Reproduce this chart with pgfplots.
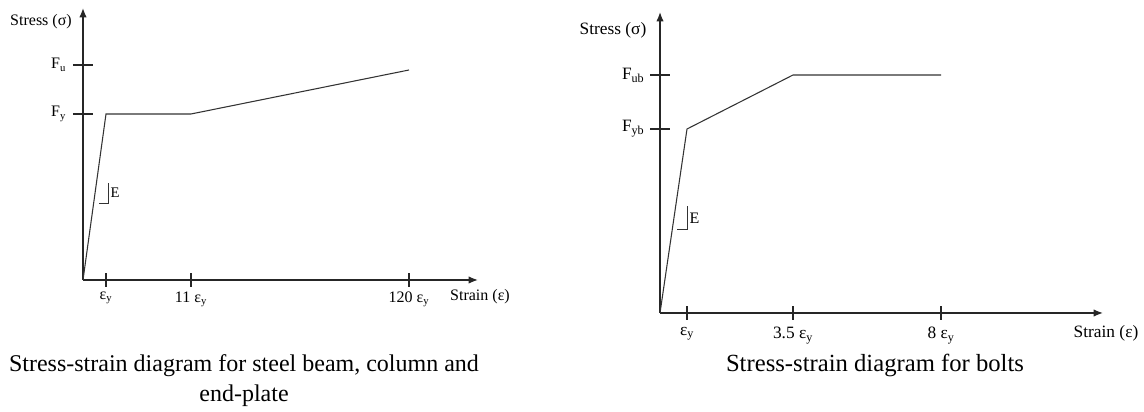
\documentclass[border=0pt]{standalone}
\usepackage{fontspec}
\setmainfont{Liberation Serif}
\usepackage{pgfplots}
\pgfplotsset{compat=1.18}
\usetikzlibrary{arrows.meta}

\pgfplotsset{
  ssdiag/.style={
    scale only axis,
    axis lines=left,
    axis line style={line width=1pt, draw=black!85, -{Latex[length=7pt,width=5.5pt]}},
    xmin=0, ymin=0,
    clip=false,
    xtick align=center, ytick align=center,
    xtick style={line width=0.9pt, black!85, /pgfplots/major tick length=10.5pt},
    ytick style={line width=0.9pt, black!85, /pgfplots/major tick length=15pt},
    /pgf/number format/assume math mode=true,
  },
  curve/.style={line width=0.8pt, black!80, no markers},
}

\begin{document}
\begin{tikzpicture}
\path (0,0) rectangle (858pt,305.25pt);

% steel beam, column and end-plate
\begin{axis}[ssdiag,
  at={(62.25pt,95.25pt)}, anchor=south west,
  width=296.25pt, height=204pt,
  xmax=395, ymax=272,
  xtick={23,108,326},
  xticklabels={ε\textsubscript{y}, 11 ε\textsubscript{y}, 120 ε\textsubscript{y}},
  ytick={166,215},
  yticklabels={F\textsubscript{y}, F\textsubscript{u}},
  tick label style={font=\fontsize{12}{14}\selectfont},
  xticklabel style={yshift=-3pt},
  yticklabel style={xshift=-7pt},
]
\addplot[curve] coordinates {(0,0) (23,166) (108,166) (326,210)};
\draw[line width=0.7pt, black!80] (axis cs:16,77) -- (axis cs:25,77) -- (axis cs:25,97);
\node[font=\fontsize{11}{13}\selectfont, anchor=west, inner sep=1pt] at (axis cs:26,87) {E};
\node[font=\fontsize{12}{14}\selectfont] at (axis cs:-42,258) {Stress (σ)};
\node[font=\fontsize{12}{14}\selectfont] at (axis cs:397,-17) {Strain (ε)};
\end{axis}

% bolts
\begin{axis}[ssdiag,
  at={(495pt,70.5pt)}, anchor=south west,
  width=332.25pt, height=225.75pt,
  xmax=443, ymax=301,
  xtick={27,133,281},
  xticklabels={ε\textsubscript{y}, 3.5 ε\textsubscript{y}, 8 ε\textsubscript{y}},
  ytick={184,238},
  yticklabels={F\textsubscript{yb}, F\textsubscript{ub}},
  tick label style={font=\fontsize{13}{15}\selectfont},
  xticklabel style={yshift=-5pt},
  yticklabel style={xshift=-6pt},
]
\addplot[curve] coordinates {(0,0) (27,184) (133,238) (281,238)};
\draw[line width=0.7pt, black!80] (axis cs:17,84) -- (axis cs:27,84) -- (axis cs:27,107);
\node[font=\fontsize{12}{14}\selectfont, anchor=west, inner sep=1pt] at (axis cs:28,95) {E};
\node[font=\fontsize{13}{15}\selectfont] at (axis cs:-47,283) {Stress (σ)};
\node[font=\fontsize{13}{15}\selectfont] at (axis cs:446,-20) {Strain (ε)};
\end{axis}

% captions
\node[font=\fontsize{18}{22.5}\selectfont, align=center] at (183pt,19.75pt)
  {Stress-strain diagram for steel beam, column and\\end-plate};
\node[font=\fontsize{18.5}{22.5}\selectfont] at (656.25pt,31pt) {Stress-strain diagram for bolts};
\end{tikzpicture}
\end{document}
